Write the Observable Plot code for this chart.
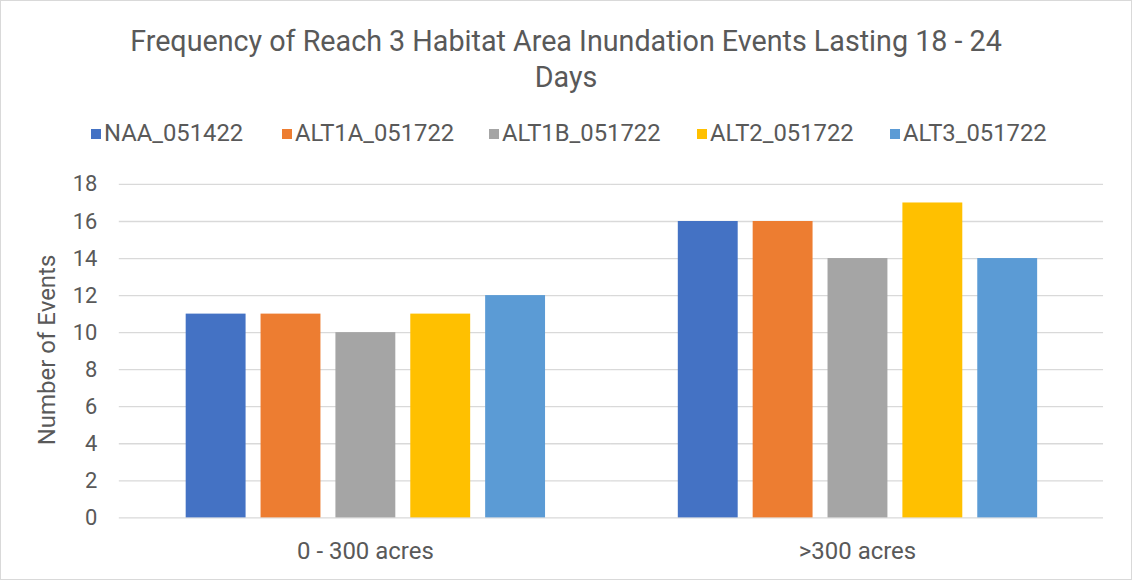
<!DOCTYPE html>
<html><head><meta charset="utf-8">
<script src="https://cdn.jsdelivr.net/npm/d3@7"></script>
<script src="https://cdn.jsdelivr.net/npm/@observablehq/plot@0.6"></script>
<style>
html,body{margin:0;padding:0;background:#fff;}
#wrap{width:1130px;height:578px;border:1px solid #d9d9d9;position:relative;overflow:hidden;font-family:Roboto,"Open Sans",sans-serif;color:#595959;}
#title{position:absolute;left:0;right:0;top:22px;text-align:center;font-size:28.7px;line-height:36px;}
#legend{position:absolute;top:117px;left:0;height:30px;}
.li{position:absolute;top:0;font-size:23.8px;line-height:30px;white-space:nowrap;}
.sw{display:inline-block;width:10px;height:10px;margin-right:3px;vertical-align:2px;}
#ylabel{position:absolute;left:46px;top:349px;transform:translate(-50%,-50%) rotate(-90deg);font-size:24px;white-space:nowrap;}
#chart{position:absolute;left:0;top:160px;}
</style></head>
<body><div id="wrap">
<div id="title">Frequency of Reach 3 Habitat Area Inundation Events Lasting 18 - 24<br>Days</div>
<div id="legend"></div>
<div id="chart"></div>
<div id="ylabel"></div>
</div>
<script>
const groups = ["0 - 300 acres", ">300 acres"];
const series = ["NAA_051422", "ALT1A_051722", "ALT1B_051722", "ALT2_051722", "ALT3_051722"];
const colors = ["#4472C4", "#ED7D31", "#A5A5A5", "#FFC000", "#5B9BD5"];
const valuesSmall = [11, 11, 10, 11, 12];
const valuesLarge = [16, 16, 14, 17, 14];
const yTicks = [0, 2, 4, 6, 8, 10, 12, 14, 16, 18];
const yLabel = "Number of Events";
const legendX = [90, 281, 488, 696, 889];

const data = [];
series.forEach((s, i) => {
  data.push({group: groups[0], series: s, value: valuesSmall[i]});
  data.push({group: groups[1], series: s, value: valuesLarge[i]});
});

const leg = document.getElementById("legend");
series.forEach((s, i) => {
  const d = document.createElement("div");
  d.className = "li";
  d.style.left = legendX[i] + "px";
  d.innerHTML = `<span class="sw" style="background:${colors[i]}"></span>`;
  d.appendChild(document.createTextNode(s));
  leg.appendChild(d);
});
document.getElementById("ylabel").textContent = yLabel;

const chart = Plot.plot({
  width: 1132,
  height: 418,
  marginTop: 23,
  marginBottom: 61,
  marginLeft: 117,
  marginRight: 28,
  style: {fontFamily: "Roboto, 'Open Sans', sans-serif", color: "#595959", background: "transparent"},
  fx: {domain: groups, padding: 0, label: null},
  x: {domain: series, axis: null, paddingInner: 0.205, paddingOuter: 0.86},
  y: {domain: [0, 18], ticks: yTicks, label: null},
  color: {domain: series, range: colors},
  marks: [
    Plot.ruleY(yTicks, {stroke: "#d9d9d9", strokeWidth: 1.3}),
    Plot.barY(data, {fx: "group", x: "series", y: "value", fill: "series"}),
    Plot.axisY({ticks: yTicks, tickSize: 0, tickPadding: 22, fontSize: 22, label: null}),
    Plot.axisFx({anchor: "bottom", tickSize: 0, tickPadding: 24, fontSize: 24, label: null})
  ]
});
document.getElementById("chart").appendChild(chart);
</script>
</body></html>
